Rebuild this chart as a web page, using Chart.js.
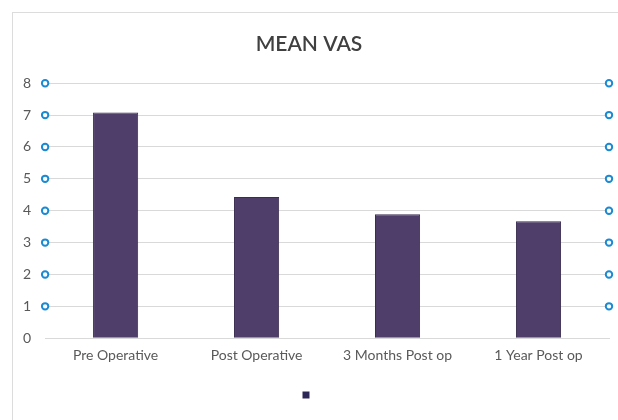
<!DOCTYPE html>
<html lang="en">
<head>
    <meta charset="UTF-8">
    <script src="https://cdn.jsdelivr.net/npm/chart.js@4/dist/chart.umd.min.js"></script>
    <title>Mean VAS</title>
    <style type="text/css">
        body { margin: 0; background: #fff; overflow: hidden; }
        #frame {
            position: absolute; left: 12px; top: 12px;
            width: 700px; height: 500px;
            border-left: 1px solid #dcdcdc; border-top: 1px solid #dcdcdc;
        }
        #wrap { position: absolute; left: 0; top: 0; width: 618px; height: 420px; }
    </style>
</head>
<body>
    <div id="frame"></div>
    <div id="wrap"><canvas id="vasCanvas"></canvas></div>
<script>
var categories = ['Pre Operative', 'Post Operative', '3 Months Post op', '1 Year Post op'];
var meanVas = [7.08, 4.43, 3.89, 3.67];
var yTicks = [0, 1, 2, 3, 4, 5, 6, 7, 8];

var barColor = '#4f3e69';
var barEdge = '#3a2d52';
var legendColor = '#2c2656';
var textColor = '#595959';
var gridColor = '#d9d9d9';

// little blue handles at both ends of every gridline (except 0)
var handles = {
    id: 'handles',
    afterDraw(chart) {
        const ctx = chart.ctx;
        const area = chart.chartArea;
        const y = chart.scales.y;
        ctx.save();
        ctx.lineWidth = 2;
        ctx.strokeStyle = '#1b8ad3';
        ctx.fillStyle = '#fff';
        yTicks.forEach(v => {
            if (v === 0) return;
            const py = y.getPixelForValue(v);
            [area.left, area.right].forEach(px => {
                ctx.beginPath();
                ctx.arc(px, py, 3.2, 0, Math.PI * 2);
                ctx.fill();
                ctx.stroke();
            });
        });
        ctx.restore();
    }
};

Chart.defaults.font.family = 'Lato, "Liberation Sans", sans-serif';
Chart.defaults.color = textColor;

new Chart(document.getElementById('vasCanvas'), {
    type: 'bar',
    data: {
        labels: categories,
        datasets: [{
            label: '',
            data: meanVas,
            backgroundColor: barColor,
            borderColor: barEdge,
            borderWidth: 1,
            barPercentage: 0.32,
            categoryPercentage: 1.0
        }]
    },
    options: {
        responsive: true,
        maintainAspectRatio: false,
        animation: false,
        layout: { padding: { left: 9, right: 9, top: 0, bottom: 9 } },
        plugins: {
            title: {
                display: true,
                text: 'MEAN VAS',
                color: '#404040',
                font: { size: 21, weight: '600' },
                padding: { top: 32, bottom: 26 }
            },
            legend: {
                position: 'bottom',
                labels: {
                    boxWidth: 7,
                    boxHeight: 7,
                    padding: 24,
                    generateLabels: () => [{
                        text: '',
                        fillStyle: legendColor,
                        strokeStyle: legendColor,
                        lineWidth: 0,
                        hidden: false,
                        datasetIndex: 0
                    }]
                }
            },
            tooltip: { enabled: false }
        },
        scales: {
            x: {
                grid: { display: false },
                border: { display: true, color: gridColor },
                ticks: { font: { size: 14 }, padding: 1, maxRotation: 0 }
            },
            y: {
                min: 0,
                max: 8,
                afterBuildTicks: axis => { axis.ticks = yTicks.map(v => ({ value: v })); },
                grid: { color: gridColor, drawTicks: false },
                border: { display: false },
                ticks: { font: { size: 14 }, padding: 14 }
            }
        }
    },
    plugins: [handles]
});
</script>
</body>
</html>
